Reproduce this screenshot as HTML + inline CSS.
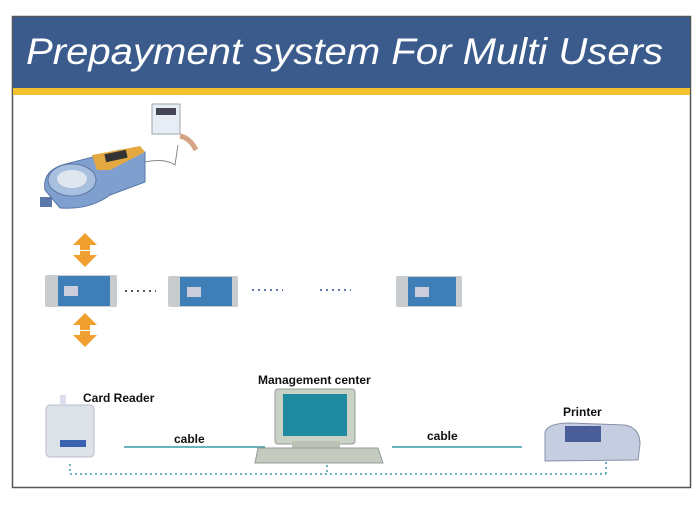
<!DOCTYPE html>
<html><head><style>
body{margin:0;background:#fff;width:700px;height:500px;overflow:hidden}
</style></head><body>
<svg width="700" height="500" xmlns="http://www.w3.org/2000/svg" font-family="Liberation Sans, sans-serif">
<rect x="12.5" y="16.5" width="678" height="471" fill="#fff" stroke="#555" stroke-width="1.5"/>
<rect x="13" y="17" width="677" height="71" fill="#3a5b8b"/>
<rect x="13" y="88" width="677" height="7" fill="#f2c12e"/>
<text x="26" y="64" font-size="37" font-style="italic" fill="#fff" textLength="637" lengthAdjust="spacingAndGlyphs">Prepayment system For Multi Users</text>

<!-- meter -->
<g>
<path d="M45 190 Q42 172 62 165 L120 150 L145 152 L145 182 L110 195 Q90 210 60 208 Z" fill="#7f9fcf" stroke="#5a78a8"/>
<ellipse cx="72" cy="180" rx="24" ry="16" fill="#a9bfe0" stroke="#5a78a8"/>
<ellipse cx="72" cy="179" rx="15" ry="9" fill="#dfe6ee"/>
<path d="M92 155 L140 146 L145 152 L110 170 L97 170 Z" fill="#e3a940"/>
<rect x="105" y="152" width="22" height="8" fill="#333" transform="rotate(-12 116 156)"/>
<rect x="40" y="197" width="12" height="10" fill="#5a78a8"/>
<path d="M145 162 Q165 158 175 165 L178 145" stroke="#888" fill="none"/>
<rect x="152" y="104" width="28" height="30" fill="#e8ecf4" stroke="#9aa"/>
<rect x="156" y="108" width="20" height="7" fill="#445"/>
<path d="M180 136 Q190 138 196 150" stroke="#d4a484" stroke-width="5" fill="none"/>
</g>

<!-- arrows -->
<g fill="#f0a030">
<path d="M85 233 L97 245 L90 245 L90 250 L80 250 L80 245 L73 245 Z"/>
<path d="M85 267 L97 255 L90 255 L90 251 L80 251 L80 255 L73 255 Z"/>
<path d="M85 313 L97 325 L90 325 L90 330 L80 330 L80 325 L73 325 Z"/>
<path d="M85 347 L97 335 L90 335 L90 331 L80 331 L80 335 L73 335 Z"/>
</g>

<!-- cards -->
<g>
<rect x="45" y="275" width="72" height="32" rx="2" fill="#c8cccf"/><rect x="58" y="276" width="52" height="30" fill="#3f7fb8"/><rect x="64" y="286" width="14" height="10" fill="#ccd"/>
<rect x="168" y="276" width="70" height="31" rx="2" fill="#c8cccf"/><rect x="180" y="277" width="52" height="29" fill="#3f7fb8"/><rect x="187" y="287" width="14" height="10" fill="#ccd"/>
<rect x="396" y="276" width="66" height="31" rx="2" fill="#c8cccf"/><rect x="408" y="277" width="48" height="29" fill="#3f7fb8"/><rect x="415" y="287" width="14" height="10" fill="#ccd"/>
</g>
<g stroke-width="1.5" stroke-dasharray="2 4">
<line x1="125" y1="291" x2="156" y2="291" stroke="#222"/>
<line x1="252" y1="290" x2="283" y2="290" stroke="#2a4a9a"/>
<line x1="320" y1="290" x2="351" y2="290" stroke="#2a4a9a"/>
</g>

<!-- bottom -->
<text x="83" y="402" font-size="12" font-weight="bold" fill="#111">Card Reader</text>
<text x="258" y="384" font-size="12" font-weight="bold" fill="#111">Management center</text>
<text x="563" y="416" font-size="12" font-weight="bold" fill="#111">Printer</text>
<text x="174" y="443" font-size="12" font-weight="bold" fill="#111">cable</text>
<text x="427" y="440" font-size="12" font-weight="bold" fill="#111">cable</text>
<line x1="124" y1="447" x2="265" y2="447" stroke="#3a9aa8" stroke-width="1.5"/>
<line x1="392" y1="447" x2="522" y2="447" stroke="#3a9aa8" stroke-width="1.5"/>

<rect x="46" y="405" width="48" height="52" rx="4" fill="#dde2e8" stroke="#bbc"/>
<rect x="60" y="395" width="6" height="10" fill="#dde"/>
<rect x="60" y="440" width="26" height="7" fill="#3a62b0"/>

<rect x="275" y="389" width="80" height="55" rx="3" fill="#c9d2c4" stroke="#999"/>
<rect x="283" y="394" width="64" height="42" fill="#1f8aa0"/>
<rect x="292" y="441" width="48" height="7" fill="#b9c2b4"/>
<path d="M258 448 L378 448 L383 463 L255 463 Z" fill="#c2cbbd" stroke="#999"/>

<path d="M545 432 Q548 423 570 423 L625 425 Q640 428 640 444 L638 460 L545 461 Z" fill="#c5cde0" stroke="#8890a8"/>
<rect x="565" y="426" width="36" height="16" fill="#4a5e9a"/>

<g stroke="#3a9aa8" stroke-width="1.5" stroke-dasharray="2 3" fill="none">
<line x1="70" y1="474" x2="606" y2="474"/>
<line x1="70" y1="464" x2="70" y2="474"/>
<line x1="327" y1="465" x2="327" y2="474"/>
<line x1="606" y1="462" x2="606" y2="474"/>
</g>
</svg>
</body></html>
